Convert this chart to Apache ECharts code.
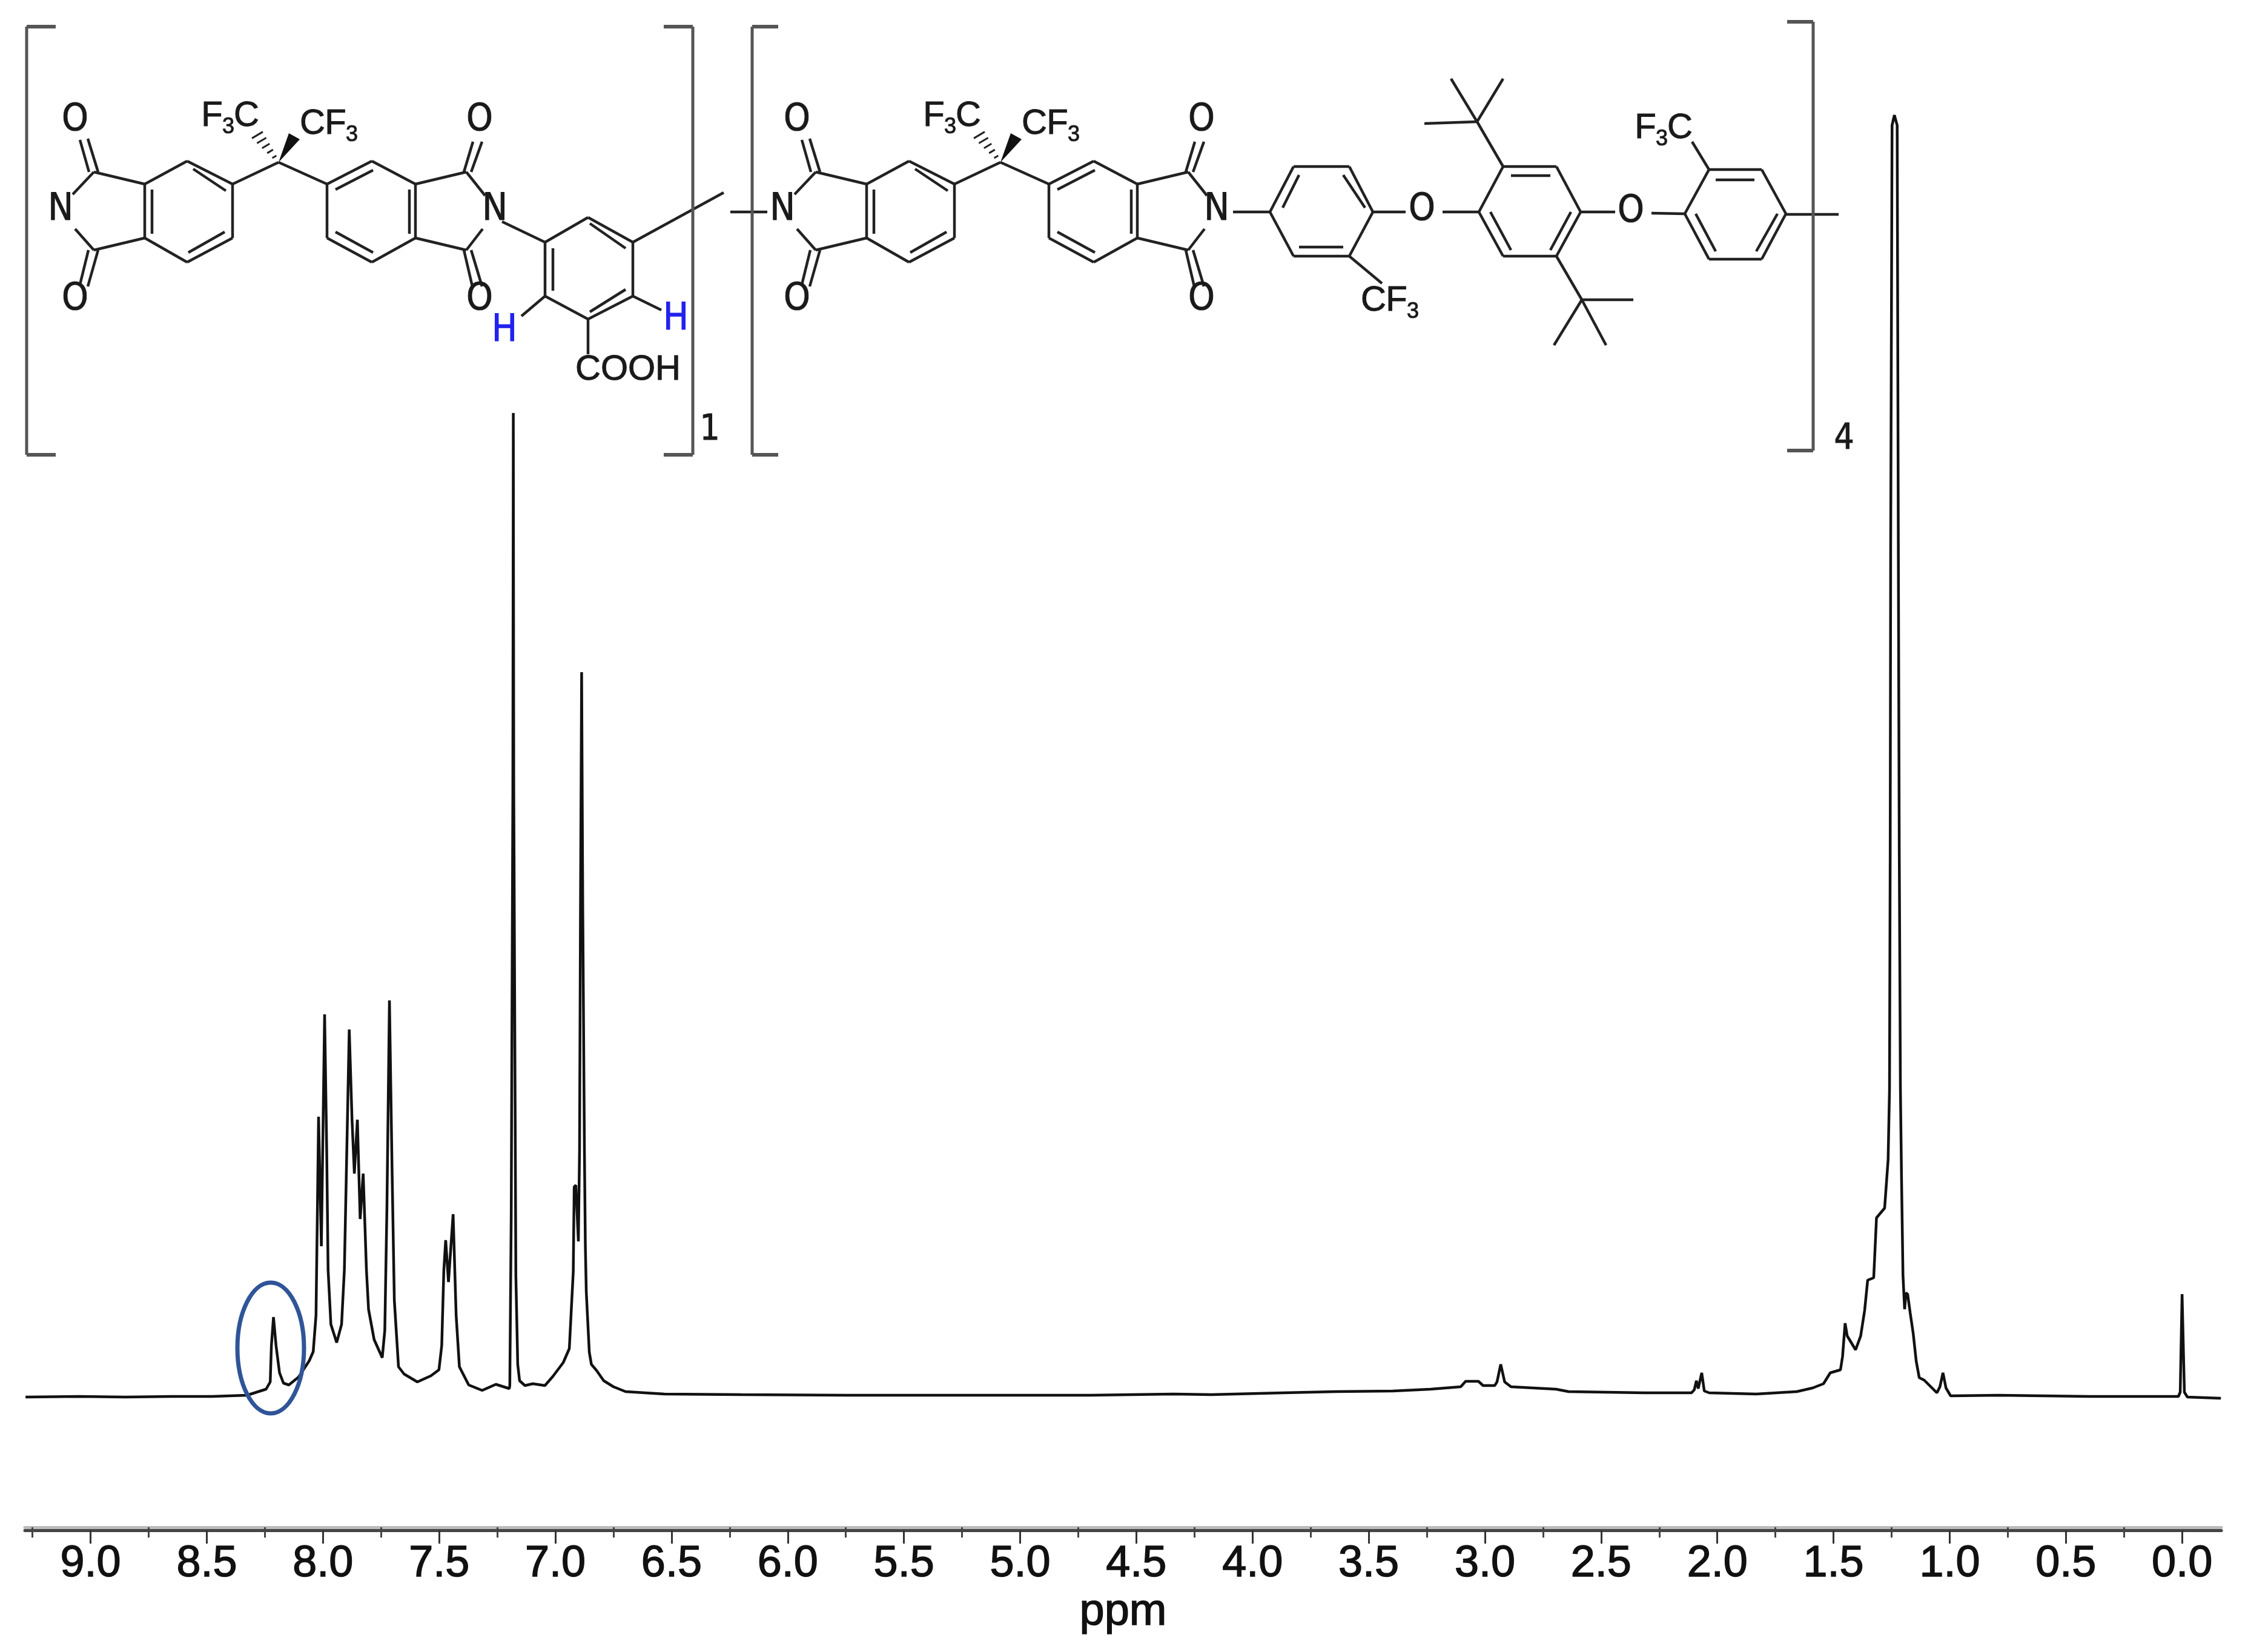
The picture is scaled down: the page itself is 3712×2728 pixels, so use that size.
<!DOCTYPE html>
<html>
<head>
<meta charset="utf-8">
<title>1H NMR</title>
<script src="https://cdn.jsdelivr.net/npm/echarts@6/dist/echarts.min.js"></script>
<style>
html, body { margin: 0; background: #fff; }
#chart { width: 3712px; height: 2728px; }
</style>
</head>
<body>
<div id="chart"></div>
<script>
// chemical shift, left to right
var ppmValues = [
  9.28, 9.05, 8.85, 8.65, 8.478, 8.327, 8.245, 8.227, 8.222, 8.213,
  8.202, 8.187, 8.170, 8.147, 8.105, 8.059, 8.042, 8.030, 8.024, 8.019,
  8.007, 7.993, 7.984, 7.978, 7.966, 7.941, 7.920, 7.908, 7.900, 7.887,
  7.875, 7.865, 7.852, 7.840, 7.827, 7.813, 7.804, 7.780, 7.745, 7.734,
  7.725, 7.714, 7.702, 7.693, 7.675, 7.651, 7.594, 7.536, 7.501, 7.489,
  7.480, 7.472, 7.460, 7.440, 7.427, 7.413, 7.373, 7.315, 7.256, 7.198,
  7.196, 7.190, 7.183, 7.181, 7.179, 7.170, 7.162, 7.154, 7.131, 7.097,
  7.045, 7.011, 6.966, 6.940, 6.932, 6.923, 6.919, 6.912, 6.901, 6.896,
  6.892, 6.887, 6.882, 6.875, 6.871, 6.867, 6.860, 6.854, 6.845, 6.823,
  6.792, 6.750, 6.698, 6.531, 6.2, 5.741, 5.2, 4.699, 4.339, 4.178,
  3.868, 3.643, 3.396, 3.234, 3.104, 3.083, 3.028, 3.008, 2.958, 2.948,
  2.932, 2.915, 2.888, 2.694, 2.640, 2.315, 2.111, 2.099, 2.090, 2.082,
  2.067, 2.056, 2.035, 1.832, 1.658, 1.590, 1.543, 1.514, 1.470, 1.461,
  1.450, 1.441, 1.405, 1.383, 1.366, 1.353, 1.327, 1.315, 1.280, 1.265,
  1.259, 1.256, 1.254, 1.248, 1.238, 1.226, 1.221, 1.217, 1.212, 1.207,
  1.201, 1.194, 1.188, 1.181, 1.170, 1.157, 1.144, 1.131, 1.110, 1.055,
  1.042, 1.029, 1.016, 0.996, 0.790, 0.399, 0.016, 0.008, 0.000, -0.010,
  -0.023, -0.167
];
// intensity, arbitrary units with the baseline at 0
var intensityValues = [
  0, 1, 0, 1, 1, 3, 13, 25, 85, 132,
  85, 40, 23, 20, 33, 60, 75, 135, 309, 463,
  249, 632, 408, 210, 120, 90, 120, 210, 359, 607,
  458, 369, 458, 294, 369, 210, 145, 95, 65, 110,
  309, 655, 359, 160, 50, 38, 25, 35, 45, 85,
  209, 259, 190, 302, 135, 50, 20, 11, 21, 14,
  20, 300, 1000, 1625, 1000, 200, 54, 27, 19, 22,
  19, 34, 57, 80, 140, 207, 347, 350, 257, 407,
  800, 1197, 800, 407, 250, 174, 120, 74, 54, 44,
  27, 17, 9, 5, 4, 3, 3, 3, 5, 4,
  7, 9, 10, 13, 17, 26, 26, 19, 19, 25,
  54, 25, 17, 13, 9, 7, 7, 12, 27, 14,
  40, 10, 7, 5, 9, 15, 22, 40, 45, 67,
  122, 101, 78, 101, 143, 193, 197, 296, 312, 392,
  507, 900, 1400, 2100, 2117, 2100, 1400, 900, 507, 354,
  201, 145, 172, 170, 139, 105, 59, 32, 28, 7,
  17, 40, 15, 2, 3, 1, 1, 8, 170, 8,
  0, -2
];
var majorTicks = [9, 8.5, 8, 7.5, 7, 6.5, 6, 5.5, 5, 4.5, 4, 3.5, 3, 2.5, 2, 1.5, 1, 0.5, 0];
var minorTicks = [9.25, 8.75, 8.25, 7.75, 7.25, 6.75, 6.25, 5.75, 5.25, 4.75, 4.25, 3.75, 3.25, 2.75, 2.25, 1.75, 1.25, 0.75, 0.25];
var xMin = -0.169;
var xMax = 9.283;

var spectrum = [];
for (var i = 0; i < ppmValues.length; i++) {
  spectrum.push([ppmValues[i], intensityValues[i]]);
}

var NARROW = '"DejaVu Sans Condensed","Liberation Sans"';
var REGULAR = '"Liberation Sans"';
var INK = '#222';

var elements = [];

function bond(x1, y1, x2, y2, w, color) {
  elements.push({
    type: 'line', silent: true,
    shape: { x1: x1, y1: y1, x2: x2, y2: y2 },
    style: { stroke: color || INK, lineWidth: w || 4.5 }
  });
}
function bonds(list, dx) {
  list.forEach(function(b) { bond(b[0] + dx, b[1], b[2] + dx, b[3]); });
}
function label(text, x, y, size, font, color) {
  elements.push({
    type: 'text', silent: true,
    style: {
      text: text, x: x, y: y, align: 'center', verticalAlign: 'middle',
      font: size + 'px ' + font, fill: color || '#1a1a1a',
      stroke: color || '#1a1a1a', lineWidth: 1
    }
  });
}
function f3c(x, y) {
  label('F', x - 30, y, 58, REGULAR);
  label('3', x - 3, y + 18, 36, REGULAR);
  label('C', x + 27, y, 58, REGULAR);
}
function cf3(x, y) {
  label('C', x - 27, y, 58, REGULAR);
  label('F', x + 11, y, 58, REGULAR);
  label('3', x + 38, y + 18, 36, REGULAR);
}
function bracket(x, tip, y1, y2) {
  var c = '#555';
  bond(x, y1, x, y2, 5, c);
  bond(tip, y1, x, y1, 6, c);
  bond(tip, y2, x, y2, 6, c);
}

// the bis-imide part, used twice with a shift
var imideBonds = [
  [155, 284, 239, 304], [155, 413, 239, 393], [155, 284, 120, 321], [155, 413, 124, 378],
  [132, 231, 147, 284], [145, 229, 162, 284], [132, 470, 146, 413], [145, 473, 162, 413],
  [239, 304, 309, 266], [309, 266, 384, 304], [384, 304, 384, 393], [384, 393, 309, 433],
  [309, 433, 239, 393], [239, 393, 239, 304], [251, 313, 251, 386], [319, 279, 373, 315],
  [311, 417, 371, 383],
  [384, 304, 460, 268], [460, 268, 540, 304],
  [540, 304, 614, 266], [614, 266, 686, 304], [686, 304, 686, 393], [686, 393, 614, 433],
  [614, 433, 540, 393], [540, 393, 540, 304], [554, 313, 616, 281], [554, 383, 616, 417],
  [676, 313, 676, 386],
  [770, 284, 686, 304], [770, 413, 686, 393], [770, 284, 801, 323], [770, 413, 797, 378],
  [766, 284, 781, 234], [778, 284, 796, 234], [766, 413, 780, 473], [778, 413, 796, 473]
];
function imideUnit(dx) {
  bonds(imideBonds, dx);
  label('O', 124 + dx, 199, 62, NARROW);
  label('O', 124 + dx, 495, 62, NARROW);
  label('N', 100 + dx, 347, 62, NARROW);
  label('O', 792 + dx, 199, 62, NARROW);
  label('O', 792 + dx, 495, 62, NARROW);
  label('N', 817 + dx, 347, 62, NARROW);
  f3c(380 + dx, 192);
  cf3(543 + dx, 205);
  elements.push({
    type: 'polygon', silent: true,
    shape: { points: [[460 + dx, 268], [477 + dx, 220], [495 + dx, 230]] },
    style: { fill: '#111' }
  });
  // hashed bond
  for (var k = 1; k <= 5; k++) {
    var hx = 460 + dx - k * 7, hy = 268 - k * 9, hw = 2 + k * 1.4;
    bond(hx - hw, hy + hw * 0.6, hx + hw, hy - hw * 0.6, 3);
  }
}
imideUnit(0);
imideUnit(1192);

// aromatic ring with the acid group
bonds([
  [829, 366, 900, 400], [900, 400, 971, 359], [971, 359, 1045, 400], [1045, 400, 1045, 489],
  [1045, 489, 971, 527], [971, 527, 900, 489], [900, 489, 900, 400], [974, 369, 1033, 410],
  [913, 410, 913, 480], [974, 515, 1033, 478], [1045, 400, 1195, 318], [900, 489, 861, 522],
  [1045, 489, 1092, 512], [971, 527, 971, 585]
], 0);
label('H', 833, 547, 62, NARROW, '#2222ee');
label('H', 1116, 528, 62, NARROW, '#2222ee');
label('COOH', 1037, 611, 58, REGULAR);

// ether chain of the second repeat unit
bonds([
  [1206, 350, 1267, 350],
  [2036, 350, 2097, 350], [2097, 350, 2136, 275], [2136, 275, 2228, 275], [2228, 275, 2267, 350],
  [2267, 350, 2228, 423], [2228, 423, 2136, 423], [2136, 423, 2097, 350], [2118, 343, 2145, 289],
  [2254, 343, 2218, 289], [2145, 408, 2218, 408], [2228, 423, 2282, 468],
  [2267, 350, 2321, 350], [2382, 350, 2442, 350],
  [2442, 350, 2482, 275], [2482, 275, 2570, 275], [2570, 275, 2610, 350], [2610, 350, 2570, 423],
  [2570, 423, 2482, 423], [2482, 423, 2442, 350], [2495, 290, 2560, 290], [2461, 350, 2495, 413],
  [2594, 350, 2560, 413],
  [2482, 275, 2439, 201], [2439, 201, 2352, 204], [2439, 201, 2396, 130], [2439, 201, 2482, 130],
  [2570, 423, 2612, 495], [2612, 495, 2697, 495], [2612, 495, 2566, 570], [2612, 495, 2652, 570],
  [2610, 350, 2667, 350], [2727, 352, 2782, 353],
  [2782, 353, 2822, 280], [2822, 280, 2909, 280], [2909, 280, 2949, 353], [2949, 353, 2909, 428],
  [2909, 428, 2822, 428], [2822, 428, 2782, 353], [2833, 297, 2897, 297], [2800, 353, 2833, 415],
  [2935, 353, 2900, 415], [2949, 354, 3036, 354], [2822, 280, 2794, 234]
], 0);
label('O', 2348, 347, 62, NARROW);
label('O', 2693, 350, 62, NARROW);
cf3(2295, 497);
f3c(2747, 212);

bracket(44, 92, 44, 751);
bracket(1144, 1096, 44, 751);
bracket(1242, 1285, 44, 751);
bracket(2994, 2951, 36, 744);
label('1', 1172, 711, 58, NARROW);
label('4', 3045, 726, 58, NARROW);

// circled proton signal
elements.push({
  type: 'ellipse', silent: true, z: 10,
  shape: { cx: 447, cy: 2226, rx: 55, ry: 108 },
  style: { fill: 'none', stroke: '#2f5597', lineWidth: 7 }
});

var chart = echarts.init(document.getElementById('chart'), null, { renderer: 'canvas' });
var option = {
  animation: false,
  backgroundColor: '#fff',
  grid: { left: 41, right: 44, top: 190, bottom: 201, outerBoundsMode: 'none' },
  xAxis: [
    {
      type: 'value', inverse: true, min: xMin, max: xMax,
      position: 'bottom',
      splitLine: { show: false },
      axisLine: { show: true, onZero: false, lineStyle: { color: '#444', width: 5 } },
      axisTick: { show: true, length: 22, lineStyle: { color: '#333', width: 3 }, customValues: majorTicks },
      axisLabel: {
        show: true, margin: 20, customValues: majorTicks,
        fontFamily: REGULAR, fontSize: 72, color: '#111',
        textBorderColor: '#111', textBorderWidth: 1.5,
        formatter: function(v) { return v.toFixed(1); }
      },
      name: 'ppm', nameLocation: 'middle', nameGap: 90,
      nameTextStyle: {
        fontFamily: REGULAR, fontSize: 74, color: '#111',
        textBorderColor: '#111', textBorderWidth: 1.5
      }
    },
    {
      type: 'value', inverse: true, min: xMin, max: xMax, offset: -5,
      position: 'bottom',
      splitLine: { show: false },
      axisLine: { show: true, onZero: false, lineStyle: { color: '#bbb', width: 5 } },
      axisTick: { show: true, length: 17, lineStyle: { color: '#444', width: 3 }, customValues: minorTicks },
      axisLabel: { show: false }
    }
  ],
  yAxis: { type: 'value', min: -220, max: 2117, show: false },
  graphic: { elements: elements },
  series: [{
    type: 'line',
    data: spectrum,
    showSymbol: false,
    silent: true,
    clip: false,
    lineStyle: { color: '#111', width: 4.5 }
  }]
};
chart.setOption(option);
</script>
</body>
</html>
